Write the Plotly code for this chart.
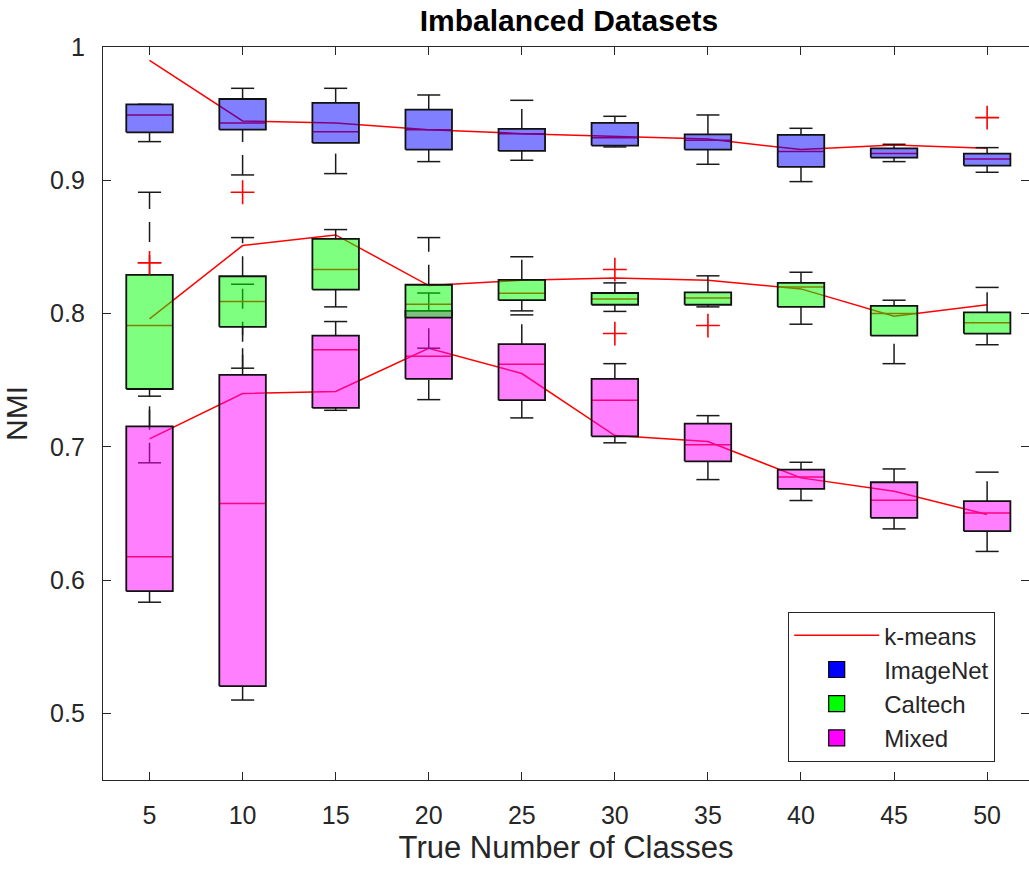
import plotly.graph_objects as go

# ---------------- data ----------------
classes = [5, 10, 15, 20, 25, 30, 35, 40, 45, 50]

in_lower = [0.929, 0.904, 0.905, 0.914, 0.915, 0.925, 0.912, 0.899, 0.914, 0.906]
in_q1 = [0.936, 0.938, 0.928, 0.923, 0.922, 0.926, 0.923, 0.910, 0.917, 0.911]
in_med = [0.949, 0.943, 0.9365, 0.938, 0.935, 0.932, 0.930, 0.9215, 0.920, 0.916]
in_q3 = [0.957, 0.961, 0.958, 0.953, 0.9385, 0.943, 0.9345, 0.934, 0.924, 0.920]
in_upper = [0.957, 0.969, 0.969, 0.964, 0.960, 0.948, 0.949, 0.939, 0.927, 0.9245]
in_kmeans = [0.990, 0.9445, 0.943, 0.938, 0.935, 0.933, 0.931, 0.923, 0.9265, 0.924]
in_out_x = [10, 50]
in_out_y = [0.891, 0.947]

ca_lower = [0.688, 0.759, 0.805, 0.774, 0.802, 0.8016, 0.805, 0.792, 0.7624, 0.7766]
ca_q1 = [0.7434, 0.790, 0.818, 0.797, 0.810, 0.8066, 0.8066, 0.805, 0.7834, 0.785]
ca_med = [0.791, 0.809, 0.833, 0.807, 0.8153, 0.811, 0.8116, 0.820, 0.800, 0.793]
ca_q3 = [0.829, 0.828, 0.856, 0.8216, 0.8253, 0.8154, 0.8159, 0.823, 0.8058, 0.8009]
ca_upper = [0.891, 0.857, 0.863, 0.857, 0.8426, 0.823, 0.8283, 0.831, 0.810, 0.8196]
ca_kmeans = [0.796, 0.851, 0.859, 0.821, 0.825, 0.8266, 0.825, 0.8185, 0.798, 0.8066]
ca_out_x = [5, 30, 30, 35]
ca_out_y = [0.838, 0.833, 0.785, 0.791]

mx_lower = [0.5834, 0.510, 0.7274, 0.7354, 0.7217, 0.703, 0.6754, 0.6597, 0.6384, 0.6215]
mx_q1 = [0.5917, 0.5205, 0.7292, 0.751, 0.735, 0.7079, 0.6891, 0.6684, 0.6467, 0.6367]
mx_med = [0.6175, 0.6574, 0.7729, 0.768, 0.762, 0.735, 0.7016, 0.6774, 0.660, 0.6504]
mx_q3 = [0.7154, 0.754, 0.7834, 0.802, 0.777, 0.751, 0.7174, 0.6829, 0.6734, 0.6592]
mx_upper = [0.738, 0.822, 0.794, 0.8154, 0.799, 0.7624, 0.7234, 0.6884, 0.6834, 0.681]
mx_kmeans = [0.706, 0.740, 0.7416, 0.774, 0.755, 0.7084, 0.704, 0.6767, 0.6667, 0.6492]

y_ticks = [0.5, 0.6, 0.7, 0.8, 0.9, 1.0]
y_ticktext = ["0.5", "0.6", "0.7", "0.8", "0.9", "1"]

datasets = [
    dict(name="ImageNet", lo=in_lower, q1=in_q1, med=in_med, q3=in_q3, hi=in_upper,
         km=in_kmeans, fill="rgba(0,0,255,0.5)", solid="#0000FF"),
    dict(name="Caltech", lo=ca_lower, q1=ca_q1, med=ca_med, q3=ca_q3, hi=ca_upper,
         km=ca_kmeans, fill="rgba(0,255,0,0.5)", solid="#00FF00"),
    dict(name="Mixed", lo=mx_lower, q1=mx_q1, med=mx_med, q3=mx_q3, hi=mx_upper,
         km=mx_kmeans, fill="rgba(255,0,255,0.5)", solid="#FF00FF"),
]

# ---------------- style ----------------
BOX_HALF = 1.25     # half box width in x data units
CAP_HALF = 0.62
FONT = "Liberation Sans, Arial, sans-serif"
AX = "#262626"

fig = go.Figure()

# k-means lines (drawn under the boxes)
for i, d in enumerate(datasets):
    fig.add_trace(go.Scatter(
        x=classes, y=d["km"], mode="lines",
        line=dict(color="#FF0000", width=1.5),
        name="k-means", showlegend=(i == 0), legendgroup="km", legendrank=1,
        hoverinfo="skip"))

# whiskers (dashed), lower: fence -> q1, upper: q3 -> fence
for d in datasets:
    wx, wy = [], []
    for c, lo, q1, q3, hi in zip(classes, d["lo"], d["q1"], d["q3"], d["hi"]):
        wx += [c, c, None, c, c, None]
        wy += [lo, q1, None, q3, hi, None]
    fig.add_trace(go.Scatter(x=wx, y=wy, mode="lines", connectgaps=False,
                             line=dict(color="#1a1a1a", width=1.5, dash="20px,13px"),
                             showlegend=False, hoverinfo="skip"))

# whisker caps
for d in datasets:
    cx, cy = [], []
    for c, lo, hi in zip(classes, d["lo"], d["hi"]):
        cx += [c - CAP_HALF, c + CAP_HALF, None, c - CAP_HALF, c + CAP_HALF, None]
        cy += [lo, lo, None, hi, hi, None]
    fig.add_trace(go.Scatter(x=cx, y=cy, mode="lines", connectgaps=False,
                             line=dict(color="#1a1a1a", width=1.5),
                             showlegend=False, hoverinfo="skip"))

# medians (red, under the translucent fill)
for d in datasets:
    mx, my = [], []
    for c, m in zip(classes, d["med"]):
        mx += [c - BOX_HALF, c + BOX_HALF, None]
        my += [m, m, None]
    fig.add_trace(go.Scatter(x=mx, y=my, mode="lines", connectgaps=False,
                             line=dict(color="#FF0000", width=1.5),
                             showlegend=False, hoverinfo="skip"))

# translucent boxes (Mixed before Caltech so Caltech overlays it)
for d in [datasets[0], datasets[2], datasets[1]]:
    bx, by = [], []
    for c, q1, q3 in zip(classes, d["q1"], d["q3"]):
        bx += [c - BOX_HALF, c + BOX_HALF, c + BOX_HALF, c - BOX_HALF, c - BOX_HALF, None]
        by += [q1, q1, q3, q3, q1, None]
    fig.add_trace(go.Scatter(x=bx, y=by, mode="lines", fill="toself",
                             fillcolor=d["fill"], connectgaps=False,
                             line=dict(color="#111111", width=1.8),
                             showlegend=False, hoverinfo="skip"))

# outliers
fig.add_trace(go.Scatter(
    x=in_out_x + ca_out_x, y=in_out_y + ca_out_y, mode="markers",
    marker=dict(symbol="cross-thin", size=17, color="#FF0000",
                line=dict(color="#FF0000", width=1.6)),
    showlegend=False, hoverinfo="skip"))

# legend entries for datasets
for k, d in enumerate(datasets):
    fig.add_trace(go.Scatter(
        x=[None], y=[None], mode="markers", name=d["name"],
        legendgroup=d["name"], legendrank=2 + k,
        marker=dict(symbol="square", size=17, color=d["solid"],
                    line=dict(color="#000000", width=1.2))))

fig.update_layout(
    width=1029, height=871,
    margin=dict(l=103, r=0, t=47, b=91),
    paper_bgcolor="white", plot_bgcolor="white",
    font=dict(family=FONT, color=AX),
    title=dict(text="<b>Imbalanced Datasets</b>", font=dict(size=30, color="#000000"),
               x=569 / 1029, xref="container", xanchor="center",
               y=1 - 20 / 871, yref="container", yanchor="middle"),
    showlegend=True,
    legend=dict(x=(788 - 103) / 926, y=(780 - 612) / 733, xanchor="left", yanchor="top",
                bgcolor="white", bordercolor=AX, borderwidth=1.2,
                font=dict(size=24, color=AX), tracegroupgap=5, itemwidth=85,
                traceorder="normal"),
)

fig.update_xaxes(
    range=[2.5, 52.25], tickvals=classes, ticktext=[str(c) for c in classes],
    ticks="inside", ticklen=8, tickwidth=1.2, tickcolor=AX,
    showline=True, linecolor=AX, linewidth=1.3, mirror="ticks",
    showgrid=False, zeroline=False,
    tickfont=dict(size=25, color=AX), ticklabelstandoff=13,
    title=dict(text="True Number of Classes", font=dict(size=31, color=AX), standoff=8))

fig.update_yaxes(
    range=[0.45, 1.0], tickvals=y_ticks, ticktext=y_ticktext,
    ticks="inside", ticklen=8, tickwidth=1.2, tickcolor=AX,
    showline=True, linecolor=AX, linewidth=1.3, mirror="ticks",
    showgrid=False, zeroline=False,
    tickfont=dict(size=25, color=AX), ticklabelstandoff=12,
    title=dict(text="NMI", font=dict(size=30, color=AX), standoff=18))

fig.write_html("out.html")
